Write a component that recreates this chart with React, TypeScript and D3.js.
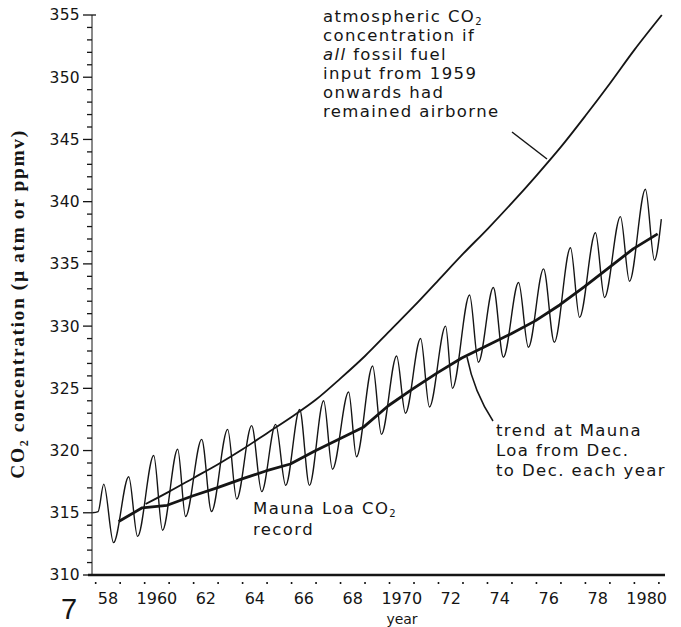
import React from 'react';
import * as d3 from 'd3';

// ---- data ----
const yMajorTicks = [310, 315, 320, 325, 330, 335, 340, 345, 350, 355];
const yMinorTicks = d3.range(310, 356, 1);
const xLabelYears = [1958, 1960, 1962, 1964, 1966, 1968, 1970, 1972, 1974, 1976, 1978, 1980];
const xLabelText = ['58', '1960', '62', '64', '66', '68', '1970', '72', '74', '76', '78', '1980'];
const xDotYears = d3.range(1958, 1982, 1);

const peakYears = [1958.33, 1959.35, 1960.37, 1961.35, 1962.33, 1963.39, 1964.37, 1965.35, 1966.33, 1967.31, 1968.33, 1969.31, 1970.29, 1971.27, 1972.29, 1973.27, 1974.24, 1975.27, 1976.29, 1977.39, 1978.41, 1979.43, 1980.45];
const peakPpm = [317.3, 317.9, 319.6, 320.1, 320.9, 321.7, 322.0, 322.1, 323.3, 324.0, 324.7, 326.8, 327.6, 329.0, 330.0, 332.5, 333.1, 333.5, 334.6, 336.3, 337.5, 338.8, 341.0];
const troughYears = [1958.73, 1959.71, 1960.73, 1961.67, 1962.73, 1963.76, 1964.78, 1965.76, 1966.73, 1967.67, 1968.65, 1969.67, 1970.65, 1971.63, 1972.57, 1973.63, 1974.65, 1975.67, 1976.73, 1977.76, 1978.78, 1979.8, 1980.82];
const troughPpm = [312.6, 313.1, 313.6, 314.7, 315.1, 316.1, 316.7, 317.2, 317.2, 318.5, 319.5, 321.3, 323.0, 323.5, 325.0, 327.1, 327.5, 328.3, 328.7, 330.7, 332.3, 333.6, 335.3];
const recordEdgeYears = [1957.86, 1958.1, 1981.1];
const recordEdgePpm = [315.0, 315.1, 338.6];

const trendYears = [1958.94, 1959.9, 1960.92, 1961.95, 1962.95, 1963.95, 1964.95, 1965.95, 1966.95, 1967.95, 1968.95, 1969.95, 1970.95, 1971.95, 1972.95, 1973.95, 1974.95, 1975.95, 1976.95, 1977.95, 1978.95, 1979.95, 1980.95];
const trendPpm = [314.3, 315.4, 315.6, 316.35, 317.0, 317.7, 318.36, 318.92, 319.97, 320.93, 321.9, 323.6, 324.95, 326.24, 327.44, 328.41, 329.37, 330.42, 331.7, 333.15, 334.68, 336.21, 337.41];

const airborneYears = [1960.04, 1961, 1962, 1963, 1964, 1965, 1966, 1967, 1968, 1969, 1970, 1971, 1972, 1973, 1974, 1975, 1976, 1977, 1978, 1979, 1980, 1981.12];
const airbornePpm = [315.7, 316.7, 317.8, 318.9, 320.1, 321.4, 322.7, 324.1, 325.8, 327.6, 329.6, 331.6, 333.7, 335.8, 337.8, 339.9, 342.1, 344.4, 346.9, 349.5, 352.2, 355.0];

const airborneLabel = ['atmospheric CO', 'concentration if', 'all', 'input from 1959', 'onwards had', 'remained airborne'];
const trendLabel = ['trend at Mauna', 'Loa from Dec.', 'to Dec. each year'];

const INK = '#151515';
const FONT = '"DejaVu Sans", sans-serif';

export default function App() {
  const x = d3.scaleLinear().domain([1957.85, 1981.25]).range([92, 665]);
  const y = d3.scaleLinear().domain([310, 355]).range([575, 15]);

  const record: [number, number][] = [
    ...d3.zip(recordEdgeYears, recordEdgePpm),
    ...d3.zip(peakYears, peakPpm),
    ...d3.zip(troughYears, troughPpm),
  ].map((d) => [d[0], d[1]] as [number, number]).sort((a, b) => a[0] - b[0]);

  const line = d3
    .line<[number, number]>()
    .x((d) => x(d[0]))
    .y((d) => y(d[1]))
    .curve(d3.curveMonotoneX);

  const trend = d3.zip(trendYears, trendPpm) as [number, number][];
  const airborne = d3.zip(airborneYears, airbornePpm) as [number, number][];

  const trendLine = d3
    .line<[number, number]>()
    .x((d) => x(d[0]))
    .y((d) => y(d[1]))
    .curve(d3.curveLinear);

  const smooth = d3
    .line<[number, number]>()
    .x((d) => x(d[0]))
    .y((d) => y(d[1]))
    .curve(d3.curveCatmullRom.alpha(0.5));

  const axisX = x.range()[0];

  return (
    <svg
      width={681}
      height={627}
      viewBox="0 0 681 627"
      style={{ position: 'absolute', left: 0, top: 0, background: '#fff' }}
    >
      <rect x={0} y={0} width={681} height={627} fill="#fff" />

      {/* y axis */}
      <line x1={axisX} x2={axisX} y1={y(310)} y2={y(355)} stroke={INK} strokeWidth={1} />
      {yMinorTicks.map((v) => (
        <line
          key={'mt' + v}
          x1={axisX}
          x2={axisX - (v % 5 === 0 ? 9 : 5)}
          y1={y(v)}
          y2={y(v)}
          stroke={INK}
          strokeWidth={1.3}
        />
      ))}
      <line x1={axisX} x2={axisX + 4} y1={y(355)} y2={y(355)} stroke={INK} strokeWidth={1.3} />
      {yMajorTicks.map((v) => (
        <text
          key={'yl' + v}
          x={80}
          y={y(v)}
          dy="0.35em"
          textAnchor="end"
          fontFamily={FONT}
          fontSize={15.5}
          letterSpacing={0.3}
          fill={INK}
        >
          {v}
        </text>
      ))}

      {/* x axis */}
      <line x1={88} x2={665} y1={y(310)} y2={y(310)} stroke={INK} strokeWidth={2.6} />
      {xDotYears.map((yr) => (
        <rect key={'xd' + yr} x={x(yr) - 0.8} y={582} width={1.6} height={2} fill={INK} />
      ))}
      {xLabelYears.map((yr, i) => (
        <text
          key={'xl' + yr}
          x={x(yr + 0.5)}
          y={604}
          textAnchor="middle"
          fontFamily={FONT}
          fontSize={16}
          fill={INK}
        >
          {xLabelText[i]}
        </text>
      ))}
      <text x={402} y={624} textAnchor="middle" fontFamily={FONT} fontSize={14} fill={INK}>
        year
      </text>
      <text x={69} y={619} textAnchor="middle" fontFamily="Liberation Sans, Arial, sans-serif" fontSize={29} fill={INK}>
        7
      </text>

      {/* y axis title */}
      <text
        transform="translate(24,304) rotate(-90)"
        textAnchor="middle"
        fontFamily='"Liberation Serif", "Times New Roman", serif'
        fontWeight="bold"
        fontSize={19.5}
        letterSpacing={1.6}
        fill={INK}
      >
        CO<tspan fontSize={12} dy={4}>2</tspan>
        <tspan dy={-4}> concentration (μ atm or ppmv)</tspan>
      </text>

      {/* series */}
      <path d={line(record) ?? ''} fill="none" stroke={INK} strokeWidth={1.4} strokeLinejoin="round" />
      <path d={trendLine(trend) ?? ''} fill="none" stroke={INK} strokeWidth={2.8} strokeLinejoin="round" />
      <path d={smooth(airborne) ?? ''} fill="none" stroke={INK} strokeWidth={1.8} />

      {/* annotations */}
      <g fontFamily={FONT} fontSize={16.5} letterSpacing={1.4} fill={INK}>
        {airborneLabel.map((t, i) => {
          const ty = 22 + i * 19;
          if (i === 0)
            return (
              <text key={i} x={323} y={ty}>
                {t}
                <tspan fontSize={10} dy={3}>2</tspan>
              </text>
            );
          if (i === 2)
            return (
              <text key={i} x={323} y={ty}>
                <tspan fontStyle="italic">{t}</tspan> fossil fuel
              </text>
            );
          return (
            <text key={i} x={323} y={ty}>
              {t}
            </text>
          );
        })}
        <text x={253} y={514}>
          Mauna Loa CO<tspan fontSize={10} dy={3}>2</tspan>
        </text>
        <text x={253} y={535}>record</text>
        {trendLabel.map((t, i) => (
          <text key={'tl' + i} x={496} y={436 + i * 20}>
            {t}
          </text>
        ))}
      </g>
      <line x1={512} y1={132} x2={547} y2={159} stroke={INK} strokeWidth={1.5} />
      <path d="M493,421 Q474,392 467,357" fill="none" stroke={INK} strokeWidth={1.5} />
    </svg>
  );
}
